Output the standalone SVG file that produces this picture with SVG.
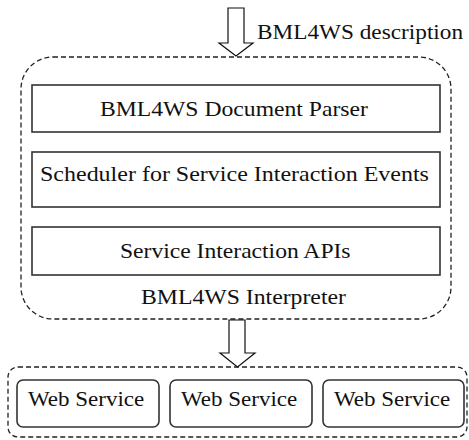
<svg xmlns="http://www.w3.org/2000/svg" width="469" height="440" viewBox="0 0 469 440">
<style>
.dash{fill:none;stroke:#222;stroke-width:1.3;stroke-dasharray:5,3}
.box{fill:#fff;stroke:#333;stroke-width:1.6}
.arrow{fill:#fff;stroke:#111;stroke-width:1.2;stroke-linejoin:miter}
</style>
<rect width="469" height="440" fill="#fff"/>
<g id="interpreter">
<rect class="dash" x="21" y="57" width="430" height="262" rx="32" ry="32"/>
<text font-family="Liberation Serif" font-size="20" fill="#111" transform="translate(141,304) scale(1.187,1)">BML4WS Interpreter</text>
</g>
<g id="parser">
<rect class="box" x="32" y="85" width="408" height="47"/>
<text font-family="Liberation Serif" font-size="20" fill="#111" transform="translate(100,116) scale(1.183,1)">BML4WS Document Parser</text>
</g>
<g id="scheduler">
<rect class="box" x="32" y="152" width="408" height="55"/>
<text font-family="Liberation Serif" font-size="20" fill="#111" transform="translate(40,181) scale(1.2,1)">Scheduler for Service Interaction Events</text>
</g>
<g id="apis">
<rect class="box" x="32" y="227" width="408" height="48"/>
<text font-family="Liberation Serif" font-size="20" fill="#111" transform="translate(120,258) scale(1.18,1)">Service Interaction APIs</text>
</g>
<g id="services">
<rect class="dash" x="8" y="367" width="459" height="70" rx="10" ry="10"/>
</g>
<g id="ws1">
<rect class="box" x="17" y="380" width="142" height="47" rx="6" ry="6"/>
<text font-family="Liberation Serif" font-size="20" fill="#111" transform="translate(28,406) scale(1.15,1)">Web Service</text>
</g>
<g id="ws2">
<rect class="box" x="170" y="380" width="142" height="47" rx="6" ry="6"/>
<text font-family="Liberation Serif" font-size="20" fill="#111" transform="translate(181,406) scale(1.15,1)">Web Service</text>
</g>
<g id="ws3">
<rect class="box" x="323" y="380" width="141" height="47" rx="6" ry="6"/>
<text font-family="Liberation Serif" font-size="20" fill="#111" transform="translate(334,406) scale(1.15,1)">Web Service</text>
</g>
<g id="connectors">
<polygon class="arrow" points="228,8 244,8 244,43 253,43 236,56 219,43 228,43"/>
<text font-family="Liberation Serif" font-size="20" fill="#111" transform="translate(257,39) scale(1.163,1)">BML4WS description</text>
<polygon class="arrow" points="229,320 245,320 245,353 255,353 237.5,367 220,353 229,353"/>
</g>
</svg>
